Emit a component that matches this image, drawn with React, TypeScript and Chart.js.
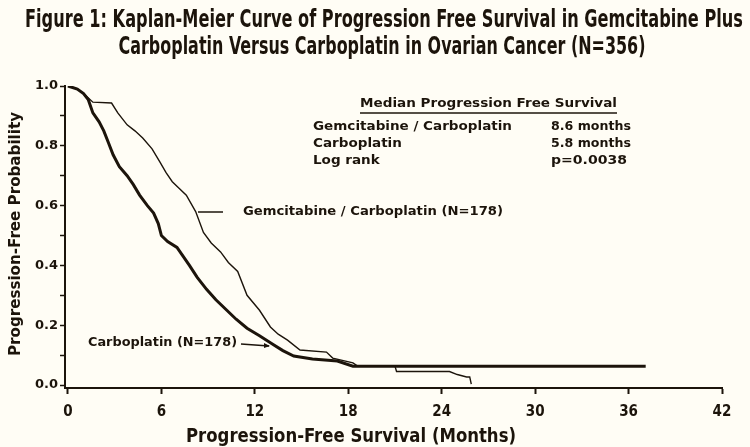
import React, { useEffect, useRef } from 'react';
import { Chart, registerables } from 'chart.js';

Chart.register(...registerables);

// ---- data ----
const carboMonths = [0, 0.6, 1.0, 1.3, 1.6, 2.0, 2.3, 2.6, 2.9, 3.3, 3.8, 4.2, 4.6, 5.1, 5.5, 5.8, 6.0, 6.4, 7.0, 7.4, 7.8, 8.3, 8.9, 9.5, 10.2, 10.8, 11.5, 12.3, 13.2, 13.8, 14.5, 15.7, 17.3, 18.3, 37.1];
const carboSurv = [1.0, 0.99, 0.975, 0.955, 0.91, 0.88, 0.85, 0.81, 0.77, 0.73, 0.70, 0.67, 0.635, 0.60, 0.575, 0.54, 0.50, 0.48, 0.46, 0.43, 0.40, 0.36, 0.32, 0.285, 0.25, 0.22, 0.19, 0.165, 0.135, 0.115, 0.097, 0.087, 0.08, 0.063, 0.063];

const gemMonths = [0, 0.6, 1.0, 1.6, 2.8, 3.2, 3.8, 4.3, 4.8, 5.4, 5.9, 6.3, 6.7, 7.2, 7.6, 8.2, 8.7, 9.2, 9.8, 10.3, 10.9, 11.5, 12.3, 13.0, 13.5, 14.1, 14.9, 16.6, 17.0, 18.3, 18.6, 21.0, 21.1, 24.5, 25.0, 25.6, 25.8, 25.9];
const gemSurv = [1.0, 0.99, 0.975, 0.946, 0.943, 0.91, 0.87, 0.85, 0.826, 0.79, 0.746, 0.71, 0.68, 0.655, 0.635, 0.58, 0.51, 0.475, 0.445, 0.41, 0.38, 0.30, 0.25, 0.194, 0.17, 0.15, 0.117, 0.11, 0.09, 0.074, 0.063, 0.063, 0.045, 0.045, 0.035, 0.027, 0.027, 0.003];

const xTickValues = [0, 6, 12, 18, 24, 30, 36, 42];
const yTickValues = [0, 0.1, 0.2, 0.3, 0.4, 0.5, 0.6, 0.7, 0.8, 0.9, 1.0];
const yLabelValues = ['0.0', '', '0.2', '', '0.4', '', '0.6', '', '0.8', '', '1.0'];

const titleLines = [
  'Figure 1: Kaplan-Meier Curve of Progression Free Survival in Gemcitabine Plus',
  'Carboplatin Versus Carboplatin in Ovarian Cancer (N=356)',
];
const xTitle = 'Progression-Free Survival (Months)';
const yTitle = 'Progression-Free Probability';
const medianHeader = 'Median Progression Free Survival';
const medianLabels = ['Gemcitabine / Carboplatin', 'Carboplatin', 'Log rank'];
const medianValues = ['8.6 months', '5.8 months', 'p=0.0038'];
const gemLabel = 'Gemcitabine / Carboplatin (N=178)';
const carboLabel = 'Carboplatin (N=178)';

// ---- styles ----
const BG = '#fffdf5';
const INK = '#1c140b';
const NARROW = "'Liberation Sans Narrow', 'DejaVu Sans Condensed', 'Arial Narrow', sans-serif";
const WIDE = "'DejaVu Sans', 'Liberation Sans', Arial, sans-serif";

function fitText(ctx: CanvasRenderingContext2D, text: string, x: number, y: number, targetW: number, font: string, align: 'left' | 'center') {
  ctx.save();
  ctx.font = font;
  ctx.textBaseline = 'middle';
  ctx.textAlign = 'left';
  const w = ctx.measureText(text).width;
  const s = targetW / w;
  const left = align === 'center' ? x - targetW / 2 : x;
  ctx.translate(left, y);
  ctx.scale(s, 1);
  ctx.fillText(text, 0, 0);
  ctx.restore();
}

function scaledText(ctx: CanvasRenderingContext2D, text: string, x: number, y: number, s: number, font: string) {
  ctx.save();
  ctx.font = font;
  ctx.textBaseline = 'middle';
  ctx.textAlign = 'left';
  ctx.translate(x, y);
  ctx.scale(s, 1);
  ctx.fillText(text, 0, 0);
  ctx.restore();
}

const annotatePlugin = {
  id: 'annotate',
  beforeDraw(chart: any) {
    const ctx = chart.ctx as CanvasRenderingContext2D;
    ctx.save();
    ctx.fillStyle = BG;
    ctx.fillRect(0, 0, chart.width, chart.height);
    ctx.restore();
  },
  afterDraw(chart: any) {
    const ctx = chart.ctx as CanvasRenderingContext2D;
    ctx.save();
    ctx.fillStyle = INK;
    ctx.strokeStyle = INK;

    // main title
    fitText(ctx, titleLines[0], 384, 20, 718, `bold 25px ${NARROW}`, 'center');
    fitText(ctx, titleLines[1], 382, 47, 527, `bold 25px ${NARROW}`, 'center');

    // axis titles
    fitText(ctx, xTitle, 351, 437, 330, `bold 20px ${NARROW}`, 'center');
    ctx.save();
    ctx.translate(16, 234);
    ctx.rotate(-Math.PI / 2);
    fitText(ctx, yTitle, 0, 0, 244, `bold 15px ${WIDE}`, 'center');
    ctx.restore();

    // median box
    const f = `bold 13px ${WIDE}`;
    ctx.font = f;
    const s = 199 / ctx.measureText(medianLabels[0]).width;
    fitText(ctx, medianHeader, 360, 104, 257, f, 'left');
    ctx.lineWidth = 1.5;
    ctx.beginPath();
    ctx.moveTo(360, 113);
    ctx.lineTo(617, 113);
    ctx.stroke();
    const rowsY = [127, 144, 161];
    const valueW = [80, 80, 76];
    medianLabels.forEach((t, i) => scaledText(ctx, t, 313, rowsY[i], s, f));
    medianValues.forEach((t, i) => fitText(ctx, t, 551, rowsY[i], valueW[i], f, 'left'));

    // curve labels
    fitText(ctx, gemLabel, 243, 212, 260, f, 'left');
    ctx.lineWidth = 1.5;
    ctx.beginPath();
    ctx.moveTo(198, 212);
    ctx.lineTo(223, 212);
    ctx.stroke();

    fitText(ctx, carboLabel, 88, 343, 149, f, 'left');
    ctx.beginPath();
    ctx.moveTo(241, 344);
    ctx.lineTo(269, 346);
    ctx.stroke();
    ctx.beginPath();
    ctx.moveTo(270, 346);
    ctx.lineTo(264, 343);
    ctx.lineTo(264, 348);
    ctx.closePath();
    ctx.fill();

    ctx.restore();
  },
};

export default function App() {
  const ref = useRef<HTMLCanvasElement | null>(null);

  useEffect(() => {
    document.body.style.margin = '0';
    document.body.style.background = BG;
    const canvas = ref.current;
    if (!canvas) return;
    const gemData = gemMonths.map((m, i) => ({ x: m, y: gemSurv[i] }));
    const carboData = carboMonths.map((m, i) => ({ x: m, y: carboSurv[i] }));

    const chart = new Chart(canvas, {
      type: 'line',
      data: {
        datasets: [
          {
            label: 'Gemcitabine / Carboplatin',
            data: gemData,
            borderColor: INK,
            borderWidth: 1.4,
            pointRadius: 0,
            tension: 0,
            fill: false,
          },
          {
            label: 'Carboplatin',
            data: carboData,
            borderColor: INK,
            borderWidth: 3,
            pointRadius: 0,
            tension: 0,
            fill: false,
          },
        ],
      },
      options: {
        responsive: false,
        animation: false,
        devicePixelRatio: 1,
        layout: { padding: { left: 0, right: 28, top: 86, bottom: 0 } },
        plugins: {
          legend: { display: false },
          tooltip: { enabled: false },
          title: { display: false },
        },
        scales: {
          x: {
            type: 'linear',
            min: -0.19,
            max: 42,
            afterBuildTicks: (sc: any) => {
              sc.ticks = xTickValues.map((v) => ({ value: v }));
            },
            afterFit: (sc: any) => {
              sc.height = 59;
            },
            grid: { drawOnChartArea: false, drawTicks: true, tickLength: 6, tickColor: INK, tickWidth: 2 },
            border: { display: true, color: INK, width: 2 },
            ticks: {
              color: INK,
              autoSkip: false,
              maxRotation: 0,
              padding: 9,
              font: { family: NARROW, size: 15, weight: 'bold' },
              callback: (v: any) => String(v),
            },
          },
          y: {
            type: 'linear',
            min: -0.01,
            max: 1.0,
            afterBuildTicks: (sc: any) => {
              sc.ticks = yTickValues.map((v) => ({ value: v }));
            },
            afterFit: (sc: any) => {
              sc.width = 65;
            },
            grid: { drawOnChartArea: false, drawTicks: true, tickLength: 5, tickColor: INK, tickWidth: 1.5 },
            border: { display: true, color: INK, width: 2 },
            ticks: {
              color: INK,
              autoSkip: false,
              padding: 2,
              font: { family: WIDE, size: 13, weight: 'bold' },
              callback: (_v: any, i: number) => yLabelValues[i],
            },
          },
        },
      },
      plugins: [annotatePlugin],
    } as any);

    return () => chart.destroy();
  }, []);

  return (
    <div style={{ position: 'absolute', left: 0, top: 0, width: 750, height: 447, background: BG }}>
      <canvas ref={ref} width={750} height={447} style={{ display: 'block' }} />
    </div>
  );
}
